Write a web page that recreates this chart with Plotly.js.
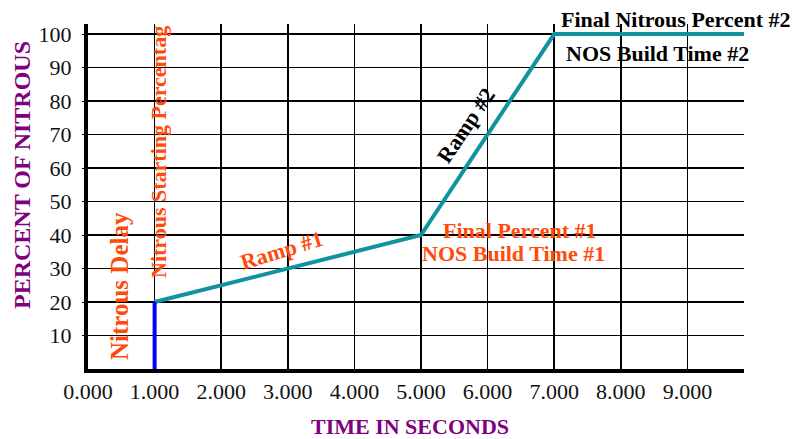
<!DOCTYPE html>
<html>
<head>
<meta charset="utf-8">
<script src="https://cdn.plot.ly/plotly-3.0.1.min.js"></script>
<style>html,body{margin:0;padding:0;background:#fff;}#chart{width:795px;height:439px;}</style>
</head>
<body>
<div id="chart"></div>
<script>
// Data
const rampTime = [1, 5, 7, 9.85];
const rampPercent = [20, 40, 100, 100];
const delayTime = [1, 1];
const delayPercent = [0, 20];
const xTickVals = [0, 1, 2, 3, 4, 5, 6, 7, 8, 9];
const yTickVals = [10, 20, 30, 40, 50, 60, 70, 80, 90, 100];

const serif = "Liberation Serif, Times New Roman, serif";
const orange = "#FF4A0A";

const traces = [
  {x: rampTime, y: rampPercent, mode: "lines", line: {color: "#11939E", width: 4}, hoverinfo: "skip"},
  {x: delayTime, y: delayPercent, mode: "lines", line: {color: "#0000FF", width: 4}, hoverinfo: "skip"}
];

const ann = (o) => Object.assign({showarrow: false, xref: "paper", yref: "paper", xanchor: "center", yanchor: "middle"}, o);

function px(x){ return (x - 88) / (744 - 88); }
function py(y){ return (369 - y) / (369 - 24); }

const annotations = [
  ann({text: "<b>PERCENT OF NITROUS</b>", x: px(22), y: py(175), textangle: -90, font: {family: serif, size: 24, color: "#800080"}}),
  ann({text: "<b>TIME IN SECONDS</b>", x: px(410), y: py(426), font: {family: serif, size: 22, color: "#800080"}}),
  ann({text: "<b>Nitrous Delay</b>", x: px(119), y: py(286), textangle: -90, font: {family: serif, size: 25, color: orange}}),
  ann({text: "<b>Nitrous Starting Percentag</b>", x: px(158), y: py(152), textangle: -90, font: {family: serif, size: 22, color: orange}}),
  ann({text: "<b>Ramp #1</b>", x: px(281), y: py(250), textangle: -17, font: {family: serif, size: 22, color: orange}}),
  ann({text: "<b>Ramp #2</b>", x: px(466), y: py(126), textangle: -56, font: {family: serif, size: 22, color: "#000000"}}),
  ann({text: "<b>Final Percent #1</b>", x: px(520), y: py(230), font: {family: serif, size: 22, color: orange}}),
  ann({text: "<b>NOS Build Time #1</b>", x: px(513), y: py(253), font: {family: serif, size: 22, color: orange}}),
  ann({text: "<b>Final Nitrous Percent #2</b>", x: px(676), y: py(20), font: {family: serif, size: 22, color: "#000000"}}),
  ann({text: "<b>NOS Build Time #2</b>", x: px(657), y: py(53), font: {family: serif, size: 22, color: "#000000"}})
];

const layout = {
  width: 795, height: 439,
  margin: {l: 88, r: 51, t: 24, b: 70, pad: 0},
  paper_bgcolor: "#ffffff", plot_bgcolor: "#ffffff",
  showlegend: false,
  xaxis: {
    range: [0, 9.85], tickvals: xTickVals, tickformat: ".3f",
    showgrid: true, gridcolor: "#000000", gridwidth: 1.5,
    showline: true, linecolor: "#000000", linewidth: 4,
    zeroline: false, ticks: "", ticklabelstandoff: 0,
    tickfont: {family: serif, size: 22, color: "#111111"}
  },
  yaxis: {
    range: [0, 103], tickvals: yTickVals,
    showgrid: true, gridcolor: "#000000", gridwidth: 1.5,
    showline: true, linecolor: "#000000", linewidth: 4,
    zeroline: false, ticks: "outside", ticklen: 2, tickwidth: 1, tickcolor: "#000000",
    ticklabelstandoff: 6,
    tickfont: {family: serif, size: 22, color: "#111111"}
  },
  annotations: annotations
};

Plotly.newPlot("chart", traces, layout, {staticPlot: true, displayModeBar: false});
</script>
</body>
</html>
